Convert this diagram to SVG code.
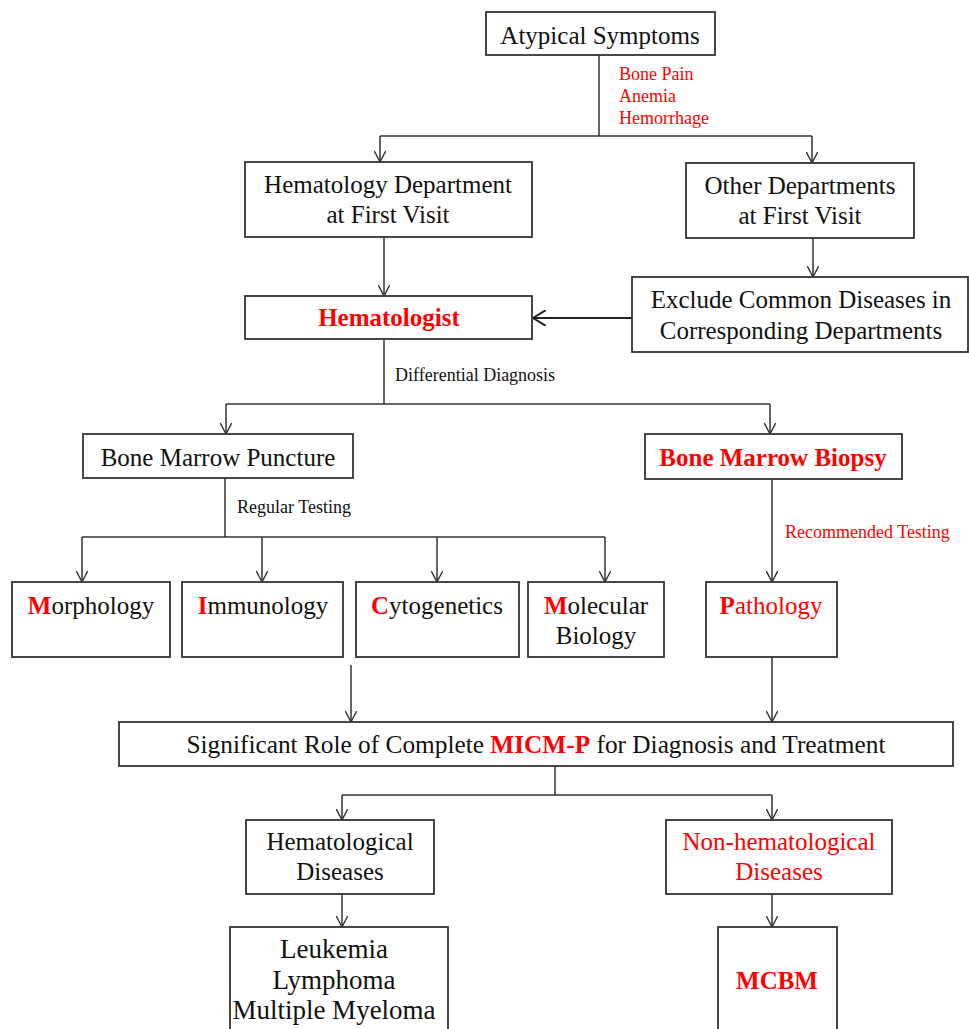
<svg xmlns="http://www.w3.org/2000/svg" width="969" height="1029" viewBox="0 0 969 1029">
<style>
.box{fill:#fff;stroke:#333;stroke-width:1.8}
.ln{fill:none;stroke:#333;stroke-width:1.5}
.t{font-family:"Liberation Serif","Times New Roman",serif;font-size:25px;fill:#111;text-anchor:middle}
.s{font-family:"Liberation Serif","Times New Roman",serif;font-size:18px;fill:#111}
.r{fill:#ff0000}
.b{font-weight:bold}
</style>
<defs>
<marker id="arr" viewBox="0 0 12 12" refX="11.5" refY="6" markerWidth="12" markerHeight="12" markerUnits="userSpaceOnUse" orient="auto">
<path d="M0,0 L11.5,6 L0,12" fill="none" stroke="#333" stroke-width="1.4"/>
</marker>
<marker id="arrB" viewBox="0 0 14 16" refX="13" refY="8" markerWidth="14" markerHeight="16" markerUnits="userSpaceOnUse" orient="auto">
<path d="M0,0 L13,8 L0,16" fill="none" stroke="#222" stroke-width="2"/>
</marker>
</defs>
<rect width="969" height="1029" fill="#fff"/>

<g id="connectors">
<path class="ln" d="M599,55 V136"/>
<path class="ln" d="M380,136 H812"/>
<path class="ln" d="M380,136 V162" marker-end="url(#arr)"/>
<path class="ln" d="M812,136 V163" marker-end="url(#arr)"/>
<path class="ln" d="M384,237 V296" marker-end="url(#arr)"/>
<path class="ln" d="M813,238 V277" marker-end="url(#arr)"/>
<path d="M632,318 H533" fill="none" stroke="#222" stroke-width="2.2" marker-end="url(#arrB)"/>
<path class="ln" d="M384,339 V404"/>
<path class="ln" d="M226,404 H770"/>
<path class="ln" d="M226,404 V434" marker-end="url(#arr)"/>
<path class="ln" d="M770,404 V434" marker-end="url(#arr)"/>
<path class="ln" d="M225,478 V537"/>
<path class="ln" d="M82,537 H605"/>
<path class="ln" d="M82,537 V582" marker-end="url(#arr)"/>
<path class="ln" d="M262,537 V582" marker-end="url(#arr)"/>
<path class="ln" d="M437,537 V582" marker-end="url(#arr)"/>
<path class="ln" d="M605,537 V582" marker-end="url(#arr)"/>
<path class="ln" d="M772,479 V582" marker-end="url(#arr)"/>
<path class="ln" d="M351,665 V722" marker-end="url(#arr)"/>
<path class="ln" d="M772,657 V722" marker-end="url(#arr)"/>
<path class="ln" d="M555,766 V795"/>
<path class="ln" d="M342,795 H772"/>
<path class="ln" d="M342,795 V820" marker-end="url(#arr)"/>
<path class="ln" d="M772,795 V820" marker-end="url(#arr)"/>
<path class="ln" d="M342,894 V927" marker-end="url(#arr)"/>
<path class="ln" d="M772,894 V927" marker-end="url(#arr)"/>
<text class="s r" x="619" y="80">Bone Pain</text>
<text class="s r" x="619" y="102">Anemia</text>
<text class="s r" x="619" y="124">Hemorrhage</text>
<text class="s" x="395" y="381">Differential Diagnosis</text>
<text class="s" x="237" y="513">Regular Testing</text>
<text class="s r" x="785" y="538">Recommended Testing</text>
</g>

<g id="atypical">
<rect class="box" x="486" y="12" width="229" height="43"/>
<text class="t" x="600" y="44">Atypical Symptoms</text>
</g>
<g id="hemdept">
<rect class="box" x="245" y="162" width="287" height="75"/>
<text class="t" x="388" y="193">Hematology Department</text>
<text class="t" x="388" y="223">at First Visit</text>
</g>
<g id="otherdept">
<rect class="box" x="686" y="163" width="228" height="75"/>
<text class="t" x="800" y="194">Other Departments</text>
<text class="t" x="800" y="224">at First Visit</text>
</g>
<g id="exclude">
<rect class="box" x="632" y="277" width="336" height="75"/>
<text class="t" x="801" y="308">Exclude Common Diseases in</text>
<text class="t" x="801" y="339">Corresponding Departments</text>
</g>
<g id="hematologist">
<rect class="box" x="245" y="296" width="287" height="43"/>
<text class="t r b" x="389" y="326">Hematologist</text>
</g>
<g id="puncture">
<rect class="box" x="83" y="434" width="270" height="44"/>
<text class="t" x="218" y="466">Bone Marrow Puncture</text>
</g>
<g id="biopsy">
<rect class="box" x="645" y="434" width="257" height="45"/>
<text class="t r b" x="773" y="466">Bone Marrow Biopsy</text>
</g>
<g id="morphology">
<rect class="box" x="12" y="582" width="158" height="75"/>
<text class="t" x="91" y="614"><tspan class="r b">M</tspan>orphology</text>
</g>
<g id="immunology">
<rect class="box" x="182" y="582" width="161" height="75"/>
<text class="t" x="263" y="614"><tspan class="r b">I</tspan>mmunology</text>
</g>
<g id="cytogenetics">
<rect class="box" x="356" y="582" width="163" height="75"/>
<text class="t" x="437" y="614"><tspan class="r b">C</tspan>ytogenetics</text>
</g>
<g id="molecular">
<rect class="box" x="528" y="582" width="136" height="75"/>
<text class="t" x="596" y="614"><tspan class="r b">M</tspan>olecular</text>
<text class="t" x="596" y="644">Biology</text>
</g>
<g id="pathology">
<rect class="box" x="706" y="582" width="131" height="75"/>
<text class="t r" x="771" y="614"><tspan class="b">P</tspan>athology</text>
</g>
<g id="micm">
<rect class="box" x="119" y="722" width="834" height="44"/>
<text class="t" x="536" y="753" textLength="699" lengthAdjust="spacingAndGlyphs">Significant Role of Complete <tspan class="r b">MICM-P</tspan> for Diagnosis and Treatment</text>
</g>
<g id="hemdiseases">
<rect class="box" x="246" y="820" width="188" height="74"/>
<text class="t" x="340" y="850">Hematological</text>
<text class="t" x="340" y="880">Diseases</text>
</g>
<g id="nonhem">
<rect class="box" x="666" y="820" width="226" height="74"/>
<text class="t r" x="779" y="850">Non-hematological</text>
<text class="t r" x="779" y="880">Diseases</text>
</g>
<g id="leukemia">
<rect class="box" x="230" y="927" width="218" height="110"/>
<text class="t" x="334" y="958" style="font-size:27px">Leukemia</text>
<text class="t" x="334" y="989" style="font-size:27px">Lymphoma</text>
<text class="t" x="334" y="1019" style="font-size:27px">Multiple Myeloma</text>
</g>
<g id="mcbm">
<rect class="box" x="718" y="927" width="119" height="110"/>
<text class="t r b" x="777" y="989">MCBM</text>
</g>
</svg>
